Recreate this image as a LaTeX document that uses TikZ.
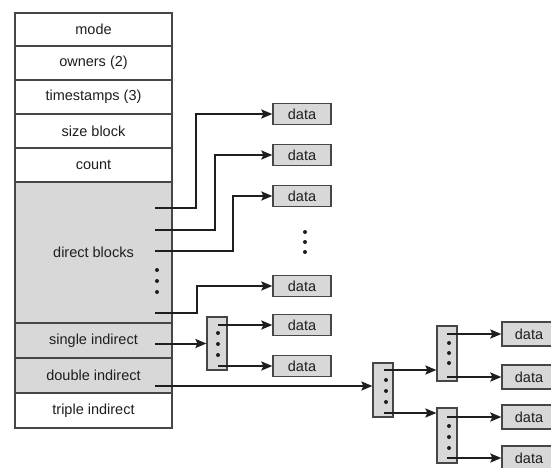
\documentclass[tikz,border=0pt]{standalone}
\usepackage{fontspec}
\setmainfont{Liberation Sans}
\usetikzlibrary{arrows.meta}
\definecolor{shade}{RGB}{216,216,216}
\definecolor{ink}{RGB}{30,30,30}
\definecolor{edge}{RGB}{70,70,70}
\tikzset{
  row/.style={draw=edge, line width=1.1pt, minimum width=157pt, inner sep=0pt, font=\fontsize{14.5}{16}\selectfont, text=ink},
  datab/.style={draw=edge, fill=shade, line width=1.3pt, minimum width=58pt, minimum height=21pt, inner sep=0pt, font=\fontsize{14.5}{16}\selectfont, text=ink},
  idx/.style={draw=edge, fill=shade, line width=1.2pt, minimum width=20pt, inner sep=0pt},
  ptr/.style={draw=ink, line width=2pt, -{Stealth[length=11pt,width=9pt,inset=2pt]}},
  dot/.style={fill=ink, circle, inner sep=0pt, minimum size=4pt}
}
\begin{document}
\begin{tikzpicture}[x=1pt,y=-1pt]
\clip (0,0) rectangle (551,467);
\fill[white] (0,0) rectangle (551,467);
% table
\node[row, minimum height=33pt] (mode) at (93.5,29.5) {mode};
\node[row, minimum height=34pt] (owners) at (93.5,63) {owners (2)};
\node[row, minimum height=34pt] (times) at (93.5,97) {timestamps (3)};
\node[row, minimum height=34pt] (size) at (93.5,131) {size block};
\node[row, minimum height=34pt] (count) at (93.5,165) {count};
\node[row, fill=shade, minimum height=141pt] (direct) at (93.5,252.5) {direct blocks};
\node[row, fill=shade, minimum height=35pt] (single) at (93.5,340.5) {single indirect};
\node[row, fill=shade, minimum height=35pt] (double) at (93.5,375.5) {double indirect};
\node[row, minimum height=35pt] (triple) at (93.5,410.5) {triple indirect};
\node[dot] (td1) at (157,270) {};
\node[dot] (td2) at (157,281) {};
\node[dot] (td3) at (157,292) {};
% direct data
\node[datab] (da1) at (302,114) {data};
\node[datab] (da2) at (302,155) {data};
\node[datab] (da3) at (302,196) {data};
\node[datab] (da4) at (302,286) {data};
\node[dot] (cd1) at (305,232) {};
\node[dot] (cd2) at (305,242) {};
\node[dot] (cd3) at (305,252) {};
\coordinate (p1) at (155,208);
\coordinate (p2) at (155,230);
\coordinate (p3) at (155,251);
\coordinate (p4) at (155,313);
\draw[ptr] (p1) -- ++(41,0) |- (da1.west);
\draw[ptr] (p2) -- ++(60,0) |- (da2.west);
\draw[ptr] (p3) -- ++(78,0) |- (da3.west);
\draw[ptr] (p4) -- ++(42,0) |- (da4.west);
% single indirect
\node[idx, minimum height=53pt] (s1) at (217,343.5) {};
\node[dot] at (218,333) {};
\node[dot] at (218,344) {};
\node[dot] at (218,355) {};
\node[datab] (ds1) at (302,325) {data};
\node[datab] (ds2) at (302,366) {data};
\coordinate (ps) at (155,343.5);
\draw[ptr] (ps) -- (s1.west);
\coordinate (s1a) at (218,325);
\coordinate (s1b) at (218,366);
\draw[ptr] (s1a) -- (ds1.west);
\draw[ptr] (s1b) -- (ds2.west);
% double indirect
\node[idx, minimum height=54pt] (b1) at (383,390) {};
\node[dot] at (386,380) {};
\node[dot] at (386,391) {};
\node[dot] at (386,402) {};
\node[idx, minimum height=55pt] (b2) at (447,353.5) {};
\node[dot] at (449,343) {};
\node[dot] at (449,353) {};
\node[dot] at (449,363) {};
\node[idx, minimum height=55pt] (b3) at (447,435.5) {};
\node[dot] at (449,426) {};
\node[dot] at (449,437) {};
\node[dot] at (449,448) {};
\coordinate (pd) at (155,386);
\draw[ptr] (pd) -- (b1.west |- pd);
\coordinate (b1a) at (384,370);
\coordinate (b1b) at (384,413);
\draw[ptr] (b1a) -- (b2.west |- b1a);
\draw[ptr] (b1b) -- (b3.west |- b1b);
\tikzset{datar/.style={datab, minimum width=54pt, minimum height=24pt}}
\node[datar] (dr1) at (529,334) {data};
\node[datar] (dr2) at (529,377) {data};
\node[datar] (dr3) at (529,417) {data};
\node[datar] (dr4) at (529,458) {data};
\coordinate (b2a) at (447,334);
\coordinate (b2b) at (447,377);
\coordinate (b3a) at (447,417);
\coordinate (b3b) at (447,458);
\draw[ptr] (b2a) -- (dr1.west);
\draw[ptr] (b2b) -- (dr2.west);
\draw[ptr] (b3a) -- (dr3.west);
\draw[ptr] (b3b) -- (dr4.west);
\end{tikzpicture}
\end{document}
